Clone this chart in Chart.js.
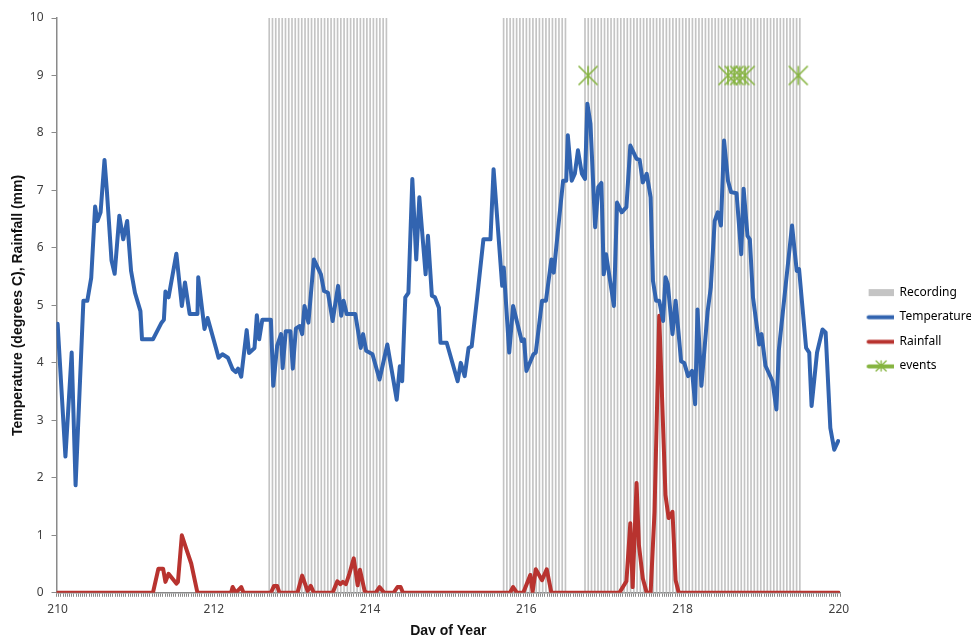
<!DOCTYPE html>
<html>
<head>
<meta charset="utf-8">
<script src="https://cdn.jsdelivr.net/npm/chart.js@4.4.0/dist/chart.umd.min.js"></script>
<style>
  html, body { margin: 0; padding: 0; background: #fff; }
</style>
</head>
<body>
<canvas id="chart" width="971" height="635"></canvas>
<script>
// day of year for each temperature vertex, and temperature (degrees C)
const tempDays = [
  210.00, 210.10, 210.18, 210.23, 210.33, 210.38, 210.43, 210.48, 210.51, 210.55,
  210.60, 210.63, 210.69, 210.73, 210.79, 210.84, 210.89, 210.94, 210.99, 211.06,
  211.08, 211.22, 211.33, 211.36, 211.38, 211.42, 211.52, 211.59, 211.63, 211.69,
  211.79, 211.80, 211.88, 211.92, 212.03, 212.06, 212.11, 212.18, 212.24, 212.28,
  212.31, 212.35, 212.42, 212.45, 212.52, 212.55, 212.58, 212.62, 212.73, 212.76,
  212.81, 212.86, 212.88, 212.92, 212.98, 213.01, 213.05, 213.10, 213.13, 213.16,
  213.21, 213.28, 213.37, 213.41, 213.46, 213.52, 213.59, 213.63, 213.66, 213.70,
  213.81, 213.88, 213.91, 213.95, 214.03, 214.12, 214.22, 214.34, 214.38, 214.41,
  214.45, 214.49, 214.54, 214.59, 214.63, 214.71, 214.74, 214.79, 214.83, 214.88,
  214.90, 214.98, 215.12, 215.16, 215.21, 215.26, 215.30, 215.37, 215.45, 215.54,
  215.58, 215.69, 215.71, 215.78, 215.83, 215.94, 215.97, 216.00, 216.09, 216.12,
  216.20, 216.25, 216.32, 216.35, 216.43, 216.47, 216.51, 216.53, 216.58, 216.62,
  216.66, 216.71, 216.75, 216.78, 216.82, 216.88, 216.92, 216.96, 216.99, 217.02,
  217.12, 217.16, 217.22, 217.28, 217.33, 217.41, 217.45, 217.49, 217.54, 217.59,
  217.62, 217.66, 217.70, 217.75, 217.78, 217.81, 217.87, 217.91, 217.98, 218.02,
  218.07, 218.12, 218.16, 218.19, 218.24, 218.32, 218.36, 218.41, 218.45, 218.49,
  218.53, 218.58, 218.62, 218.69, 218.75, 218.78, 218.83, 218.86, 218.90, 218.98,
  219.01, 219.06, 219.15, 219.20, 219.23, 219.32, 219.40, 219.46, 219.49, 219.58,
  219.62, 219.65, 219.72, 219.79, 219.83, 219.89, 219.94, 219.99
];
const tempValues = [
  4.68, 2.37, 4.18, 1.87, 5.08, 5.08, 5.48, 6.72, 6.47, 6.62,
  7.53, 7.00, 5.78, 5.55, 6.56, 6.15, 6.47, 5.60, 5.22, 4.90,
  4.41, 4.41, 4.70, 4.75, 5.24, 5.14, 5.90, 4.99, 5.40, 4.85,
  4.85, 5.49, 4.59, 4.78, 4.24, 4.09, 4.15, 4.09, 3.89, 3.84,
  3.90, 3.76, 4.57, 4.17, 4.26, 4.83, 4.41, 4.75, 4.75, 3.60,
  4.30, 4.50, 3.91, 4.55, 4.55, 3.90, 4.60, 4.64, 4.50, 4.99,
  4.70, 5.80, 5.54, 5.25, 5.22, 4.73, 5.34, 4.82, 5.08, 4.85,
  4.85, 4.26, 4.50, 4.21, 4.15, 3.71, 4.32, 3.36, 3.94, 3.68,
  5.14, 5.22, 7.20, 5.80, 6.88, 5.54, 6.21, 5.17, 5.14, 4.96,
  4.35, 4.35, 3.68, 4.00, 3.77, 4.26, 4.29, 5.14, 6.15, 6.15,
  7.37, 5.34, 5.66, 4.18, 4.99, 4.38, 4.41, 3.86, 4.15, 4.18,
  5.08, 5.08, 5.80, 5.57, 6.65, 7.17, 7.17, 7.96, 7.17, 7.29,
  7.70, 7.29, 7.20, 8.51, 8.16, 6.36, 7.06, 7.13, 5.54, 5.89,
  4.99, 6.79, 6.62, 6.71, 7.78, 7.55, 7.53, 7.14, 7.29, 6.88,
  5.43, 5.08, 5.08, 4.73, 5.49, 5.37, 4.50, 5.08, 4.03, 4.00,
  3.77, 3.86, 3.28, 4.93, 3.60, 4.90, 5.31, 6.47, 6.62, 6.39,
  7.87, 7.17, 6.97, 6.95, 5.89, 7.03, 6.21, 6.15, 5.14, 4.32,
  4.50, 3.95, 3.68, 3.19, 4.21, 5.37, 6.39, 5.60, 5.63, 4.26,
  4.18, 3.25, 4.18, 4.58, 4.53, 2.87, 2.49, 2.64
];

// rainfall (mm) vertices
const rainDays = [
  210.00, 211.22, 211.29, 211.35, 211.38, 211.42, 211.52, 211.54, 211.59, 211.65,
  211.71, 211.79, 212.22, 212.24, 212.28, 212.35, 212.38, 212.73, 212.77, 212.81,
  212.84, 213.07, 213.13, 213.20, 213.24, 213.28, 213.52, 213.58, 213.62, 213.65,
  213.69, 213.73, 213.79, 213.84, 213.87, 213.93, 213.96, 214.07, 214.12, 214.18,
  214.30, 214.35, 214.39, 214.42, 215.79, 215.83, 215.88, 215.96, 216.05, 216.08,
  216.12, 216.20, 216.26, 216.32, 217.19, 217.28, 217.33, 217.36, 217.41, 217.44,
  217.49, 217.54, 217.59, 217.64, 217.70, 217.78, 217.82, 217.87, 217.91, 217.95,
  220.00
];
const rainValues = [
  0, 0, 0.42, 0.42, 0.19, 0.33, 0.16, 0.19, 1.00, 0.75,
  0.51, 0, 0, 0.10, 0, 0.10, 0, 0, 0.12, 0.12,
  0, 0, 0.30, 0.03, 0.12, 0, 0, 0.20, 0.15, 0.19,
  0.15, 0.31, 0.60, 0.13, 0.40, 0.03, 0, 0, 0.10, 0,
  0, 0.10, 0.10, 0, 0, 0.10, 0, 0, 0.31, 0.02,
  0.41, 0.22, 0.41, 0, 0, 0.20, 1.21, 0.10, 1.91, 0.83,
  0.25, 0, 0, 1.41, 4.82, 1.70, 1.30, 1.41, 0.22, 0,
  0
];

// events
const eventDays = [216.79, 218.58, 218.66, 218.73, 218.80, 219.48];
const eventValues = [9, 9, 9, 9, 9, 9];

// recording periods (day of year), one column per hour
const recordingStart = [212.708, 215.708, 216.75];
const recordingEnd = [214.208, 216.5, 219.5];
const recordingLevel = 10;

const xTickLabels = [210, 212, 214, 216, 218, 220];
const yTickLabels = [0, 1, 2, 3, 4, 5, 6, 7, 8, 9, 10];

const blue = '#3264b0';
const red = '#b8332f';
const grey = '#c4c4c4';
const green = '#86b440';

const tempData = tempDays.map((d, i) => ({ x: d, y: tempValues[i] }));
const rainData = rainDays.map((d, i) => ({ x: d, y: rainValues[i] }));
const eventData = eventDays.map((d, i) => ({ x: d, y: eventValues[i] }));
const recordingData = [];
recordingStart.forEach((s, i) => {
  for (let h = Math.round(s * 24); h <= Math.round(recordingEnd[i] * 24); h++) {
    recordingData.push({ x: h / 24, y: recordingLevel });
  }
});

// minor ticks along the day axis
const xTicks = [];
for (let k = 0; k <= 360; k++) xTicks.push(210 + k / 36);

function icon(w, h, draw) {
  const c = document.createElement('canvas');
  c.width = w; c.height = h;
  draw(c.getContext('2d'));
  return c;
}
function star(g, cx, cy, r) {
  g.beginPath();
  g.moveTo(cx - r, cy - r); g.lineTo(cx + r, cy + r);
  g.moveTo(cx + r, cy - r); g.lineTo(cx - r, cy + r);
  g.moveTo(cx, cy - r); g.lineTo(cx, cy + r);
  g.stroke();
}
const eventMarker = icon(22, 22, g => {
  g.strokeStyle = green; g.lineWidth = 1.6;
  star(g, 11, 11, 9.5);
});
const legendW = 41;
const legendIcons = [
  icon(legendW, 14, g => { g.fillStyle = grey; g.fillRect(16, 4, 26, 7); }),
  icon(legendW, 14, g => { g.strokeStyle = blue; g.lineWidth = 4; g.lineCap = 'round';
    g.beginPath(); g.moveTo(16, 7.5); g.lineTo(41, 7.5); g.stroke(); }),
  icon(legendW, 14, g => { g.strokeStyle = red; g.lineWidth = 4; g.lineCap = 'round';
    g.beginPath(); g.moveTo(16, 7.5); g.lineTo(41, 7.5); g.stroke(); }),
  icon(legendW, 14, g => { g.strokeStyle = green; g.lineWidth = 4; g.lineCap = 'round';
    g.beginPath(); g.moveTo(16, 7.5); g.lineTo(41, 7.5); g.stroke();
    g.lineWidth = 1.4; star(g, 28.5, 7, 5); })
];
const legendNames = ['Recording', 'Temperature', 'Rainfall', 'events'];

const chart = new Chart(document.getElementById('chart'), {
  type: 'line',
  data: {
    datasets: [
      {
        type: 'bar',
        label: 'Recording',
        data: recordingData,
        backgroundColor: grey,
        barThickness: 1,
        order: 4
      },
      {
        label: 'Temperature',
        data: tempData,
        borderColor: blue,
        borderWidth: 4,
        pointRadius: 0,
        borderJoinStyle: 'round',
        borderCapStyle: 'round',
        tension: 0,
        order: 2
      },
      {
        label: 'Rainfall',
        data: rainData,
        borderColor: red,
        borderWidth: 4,
        pointRadius: 0,
        borderJoinStyle: 'round',
        borderCapStyle: 'round',
        tension: 0,
        order: 3
      },
      {
        label: 'events',
        data: eventData,
        showLine: false,
        pointStyle: eventMarker,
        pointRadius: 10,
        order: 1
      }
    ]
  },
  options: {
    responsive: false,
    animation: false,
    layout: { padding: { top: 18, left: 5, right: 0, bottom: -5 } },
    plugins: {
      tooltip: { enabled: false },
      legend: {
        position: 'right',
        maxWidth: 131,
        labels: {
          usePointStyle: true,
          pointStyleWidth: legendW,
          padding: 12.6,
          color: '#404040',
          font: { family: 'Noto Sans', size: 12 },
          generateLabels: () => legendNames.map((name, i) => ({
            text: name,
            pointStyle: legendIcons[i],
            fillStyle: 'transparent',
            strokeStyle: 'transparent',
            lineWidth: 0,
            datasetIndex: i
          }))
        }
      }
    },
    scales: {
      x: {
        type: 'linear',
        min: 210,
        max: 220,
        afterBuildTicks: scale => { scale.ticks = xTicks.map(v => ({ value: v })); },
        ticks: {
          autoSkip: false,
          maxRotation: 0,
          padding: 6,
          color: '#404040',
          font: { family: 'Noto Sans', size: 12 },
          callback: v => {
            const r = Math.round(v);
            return Math.abs(v - r) < 1e-6 && xTickLabels.includes(r) ? String(r) : '';
          }
        },
        grid: { drawOnChartArea: false, drawTicks: true, tickLength: 4, color: '#8a8a8a', lineWidth: 1 },
        border: { color: '#8a8a8a', width: 1.5 },
        title: {
          display: true,
          text: 'Day of Year',
          color: '#111',
          font: { family: 'Liberation Sans', size: 14, weight: 'bold' },
          padding: { top: 0, bottom: 0 }
        }
      },
      y: {
        min: 0,
        max: 10,
        afterBuildTicks: scale => { scale.ticks = yTickLabels.map(v => ({ value: v })); },
        ticks: {
          padding: 8,
          color: '#404040',
          font: { family: 'Noto Sans', size: 12 }
        },
        grid: { drawOnChartArea: false, drawTicks: true, tickLength: 5, color: '#8a8a8a' },
        border: { color: '#8a8a8a', width: 1.5 },
        title: {
          display: true,
          text: 'Temperature (degrees C), Rainfall (mm)',
          color: '#111',
          font: { family: 'Liberation Sans', size: 14, weight: 'bold' },
          padding: { top: 5, bottom: -5 }
        }
      }
    }
  }
});
</script>
</body>
</html>
